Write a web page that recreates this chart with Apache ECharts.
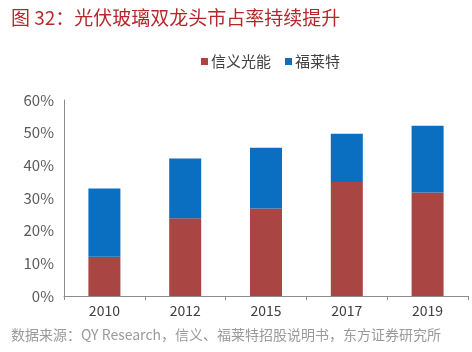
<!DOCTYPE html>
<html>
<head>
<meta charset="utf-8">
<script src="https://cdn.jsdelivr.net/npm/echarts@6/dist/echarts.min.js"></script>
<style>
  html, body { margin: 0; padding: 0; background: #fff; }
  #chart { width: 472px; height: 352px; }
</style>
</head>
<body>
<div id="chart"></div>
<script>
// 年份
var years = ['2010', '2012', '2015', '2017', '2019'];
// 信义光能 市占率 %
var xinyi = [12.0, 23.8, 26.8, 34.9, 31.7];
// 福莱特 市占率 %
var flat = [20.9, 18.3, 18.6, 14.8, 20.4];

var font = '"Noto Sans CJK SC", "Noto Sans", sans-serif';

var chart = echarts.init(document.getElementById('chart'));

chart.setOption({
	animation: false,
	title: [{
		text: '图 32：光伏玻璃双龙头市占率持续提升',
		left: 6, top: 3,
		textStyle: { color: '#b5282a', fontSize: 19, fontWeight: 'normal', fontFamily: font }
	}, {
		text: '数据来源：QY Research，信义、福莱特招股说明书，东方证券研究所',
		left: 6, top: 323,
		textStyle: { color: '#9a9a9a', fontSize: 14, fontWeight: 'normal', fontFamily: font }
	}],
	legend: {
		left: 196, top: 49,
		itemWidth: 7, itemHeight: 7, itemGap: 14,
		icon: 'rect',
		textStyle: { color: '#404040', fontSize: 15, fontFamily: font, padding: [0, 0, 0, -2] },
		data: ['信义光能', '福莱特']
	},
	grid: { left: 64, right: 4, top: 100, bottom: 56 },
	xAxis: {
		type: 'category',
		data: years,
		axisLine: { lineStyle: { color: '#8c8c8c' } },
		axisTick: { show: true, length: 4, lineStyle: { color: '#8c8c8c' } },
		axisLabel: { color: '#404040', fontSize: 14, fontFamily: font, margin: 8 }
	},
	yAxis: {
		type: 'value',
		min: 0, max: 60, interval: 10,
		axisLine: { show: true, lineStyle: { color: '#8c8c8c' } },
		axisTick: { show: false },
		splitLine: { show: false },
		axisLabel: { color: '#595959', fontSize: 15, fontFamily: font, margin: 10, formatter: '{value}%' }
	},
	series: [{
		name: '信义光能',
		type: 'bar',
		stack: 'share',
		barWidth: 32,
		itemStyle: { color: '#a94542' },
		data: xinyi
	}, {
		name: '福莱特',
		type: 'bar',
		stack: 'share',
		barWidth: 32,
		itemStyle: { color: '#0a6fc0' },
		data: flat
	}]
});
</script>
</body>
</html>
